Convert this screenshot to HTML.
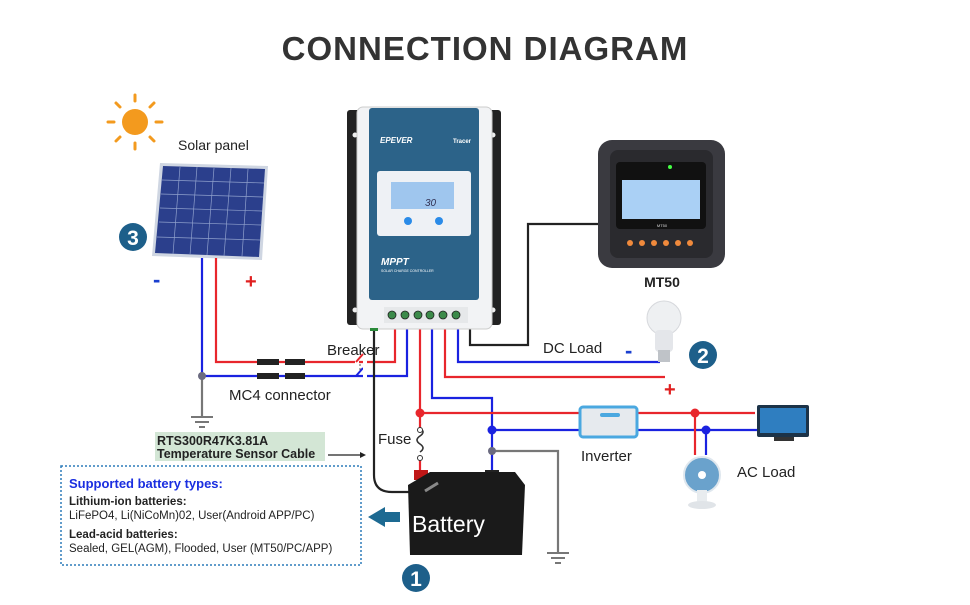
<!DOCTYPE html>
<html><head><meta charset="utf-8"><style>
html,body{margin:0;padding:0;background:#fff}
svg text{font-family:"Liberation Sans",Arial,sans-serif}
</style></head><body>
<svg width="970" height="600" viewBox="0 0 970 600" xmlns="http://www.w3.org/2000/svg">
<rect width="970" height="600" fill="#fff"/>
<text x="485" y="60" text-anchor="middle" font-size="33" font-weight="bold" fill="#333" letter-spacing="1">CONNECTION  DIAGRAM</text>

<!-- sun -->
<g stroke="#f39a1e" stroke-width="3" stroke-linecap="round">
<line x1="135" y1="95" x2="135" y2="101"/><line x1="135" y1="143" x2="135" y2="149"/>
<line x1="108" y1="122" x2="114" y2="122"/><line x1="156" y1="122" x2="162" y2="122"/>
<line x1="116" y1="103" x2="120" y2="107"/><line x1="150" y1="137" x2="154" y2="141"/>
<line x1="154" y1="103" x2="150" y2="107"/><line x1="120" y1="137" x2="116" y2="141"/>
</g>
<circle cx="135" cy="122" r="13" fill="#f39a1e"/>
<text x="178" y="150" font-size="14" fill="#222">Solar panel</text>

<!-- solar panel -->
<polygon points="160,163 268,166 262,260 152,256" fill="#cfd6e2"/>
<polygon points="163,166 265,169 259,257 155,253" fill="#2b3f8c"/>
<g stroke="#8fa0cc" stroke-width="0.7">
<line x1="180" y1="167" x2="173" y2="254"/><line x1="197" y1="167" x2="190" y2="255"/>
<line x1="214" y1="168" x2="207" y2="255"/><line x1="231" y1="168" x2="224" y2="256"/>
<line x1="248" y1="169" x2="242" y2="256"/>
<line x1="162" y1="180" x2="264" y2="183"/><line x1="161" y1="194" x2="263" y2="197"/>
<line x1="160" y1="208" x2="262" y2="211"/><line x1="159" y1="222" x2="261" y2="225"/>
<line x1="157" y1="237" x2="260" y2="240"/>
</g>
<circle cx="133" cy="237" r="14" fill="#1d5f8a"/>
<text x="133" y="245" text-anchor="middle" font-size="21" font-weight="bold" fill="#fff">3</text>
<text x="153" y="287" font-size="22" font-weight="bold" fill="#1a3fcf">-</text>
<text x="245" y="288" font-size="20" font-weight="bold" fill="#e02020">+</text>

<!-- wires -->
<g fill="none" stroke-width="2.2">
<polyline points="216,258 216,362 395,362 395,328" stroke="#e8262c"/>
<polyline points="202,258 202,376 407,376 407,328" stroke="#1a22e0"/>
<polyline points="420,328 420,470" stroke="#e8262c"/>
<polyline points="432,328 432,398 492,398 492,470" stroke="#1a22e0"/>
<polyline points="420,413 755,413" stroke="#e8262c"/>
<polyline points="492,430 760,430" stroke="#1a22e0"/>
<polyline points="445,328 445,377 665,377" stroke="#e8262c"/>
<polyline points="458,328 458,362 660,362" stroke="#1a22e0"/>
<polyline points="470,328 470,345 528,345 528,224 600,224" stroke="#222"/>
<polyline points="695,413 695,455" stroke="#e8262c"/>
<polyline points="706,430 706,455" stroke="#1a22e0"/>
<polyline points="202,376 202,416" stroke="#777"/>
<polyline points="492,451 558,451 558,552" stroke="#777"/>
<path d="M374,330 L374,475 Q374,492 392,492 L432,492" stroke="#222"/>
</g>
<g stroke="#777" stroke-width="2">
<line x1="191" y1="417" x2="213" y2="417"/><line x1="195" y1="422" x2="209" y2="422"/><line x1="199" y1="427" x2="205" y2="427"/>
<line x1="547" y1="553" x2="569" y2="553"/><line x1="551" y1="558" x2="565" y2="558"/><line x1="555" y1="563" x2="561" y2="563"/>
</g>
<circle cx="202" cy="376" r="4" fill="#6b6b80"/>
<circle cx="492" cy="451" r="4" fill="#6b6b80"/>
<circle cx="420" cy="413" r="4.5" fill="#e8262c"/>
<circle cx="492" cy="430" r="4.5" fill="#1a22e0"/>
<circle cx="695" cy="413" r="4.5" fill="#e8262c"/>
<circle cx="706" cy="430" r="4.5" fill="#1a22e0"/>

<!-- MC4 -->
<g fill="#222">
<rect x="257" y="359" width="22" height="6"/><rect x="285" y="359" width="20" height="6"/>
<rect x="257" y="373" width="22" height="6"/><rect x="285" y="373" width="20" height="6"/>
</g>
<rect x="305" y="359" width="54" height="6" fill="#fff"/>
<line x1="305" y1="362" x2="355" y2="362" stroke="#e8262c" stroke-width="2.2"/>
<line x1="356" y1="362" x2="363" y2="354" stroke="#e8262c" stroke-width="2"/>
<line x1="356" y1="376" x2="363" y2="368" stroke="#1a22e0" stroke-width="2"/>
<line x1="360" y1="364" x2="360" y2="372" stroke="#555" stroke-dasharray="2,2"/>
<rect x="363" y="358" width="4" height="22" fill="#fff"/>
<text x="327" y="355" font-size="15" fill="#222">Breaker</text>
<text x="229" y="400" font-size="15" fill="#222">MC4 connector</text>

<!-- fuse -->
<rect x="415" y="428" width="10" height="32" fill="#fff"/>
<path d="M420,428 q6,4 0,8 q-6,4 0,8 q6,4 0,8" fill="none" stroke="#333" stroke-width="1.6"/>
<circle cx="420" cy="430" r="2.5" fill="#fff" stroke="#333"/><circle cx="420" cy="458" r="2.5" fill="#fff" stroke="#333"/>
<text x="378" y="444" font-size="15" fill="#222">Fuse</text>

<!-- controller -->
<rect x="347" y="110" width="16" height="215" rx="3" fill="#222"/>
<rect x="485" y="110" width="16" height="215" rx="3" fill="#222"/>
<circle cx="355" cy="135" r="2.5" fill="#eee"/><circle cx="493" cy="135" r="2.5" fill="#eee"/>
<circle cx="355" cy="310" r="2.5" fill="#eee"/><circle cx="493" cy="310" r="2.5" fill="#eee"/>
<rect x="357" y="107" width="135" height="222" rx="6" fill="#f2f3f5" stroke="#ccc"/>
<rect x="369" y="108" width="110" height="192" rx="3" fill="#2c6389"/>
<text x="380" y="143" font-size="8" font-weight="bold" font-style="italic" fill="#fff">EPEVER</text>
<text x="453" y="143" font-size="6" font-weight="bold" fill="#fff">Tracer</text>
<rect x="377" y="171" width="94" height="65" rx="3" fill="#eef1f5"/>
<rect x="391" y="182" width="63" height="27" fill="#9fc6ee"/>
<text x="425" y="206" font-size="10" fill="#335" font-style="italic">30</text>
<circle cx="408" cy="221" r="4" fill="#2a8be8"/><circle cx="439" cy="221" r="4" fill="#2a8be8"/>
<text x="381" y="265" font-size="10" font-weight="bold" font-style="italic" fill="#fff">MPPT</text>
<text x="381" y="272" font-size="3.5" fill="#fff">SOLAR CHARGE CONTROLLER</text>
<rect x="384" y="307" width="84" height="16" fill="#e6e8ea"/>
<g fill="#3c8a4a" stroke="#222" stroke-width="0.8">
<circle cx="392" cy="315" r="4"/><circle cx="405" cy="315" r="4"/><circle cx="418" cy="315" r="4"/>
<circle cx="430" cy="315" r="4"/><circle cx="443" cy="315" r="4"/><circle cx="456" cy="315" r="4"/>
</g>
<rect x="370" y="328" width="8" height="3" fill="#2a8a3a"/>

<!-- MT50 -->
<rect x="598" y="140" width="127" height="128" rx="14" fill="#3a3a40"/>
<rect x="610" y="150" width="103" height="108" rx="8" fill="#2a2a2e"/>
<rect x="616" y="162" width="90" height="67" rx="4" fill="#111"/>
<circle cx="670" cy="167" r="2" fill="#4f4"/>
<rect x="622" y="180" width="78" height="39" fill="#aad0f5"/>
<text x="662" y="227" text-anchor="middle" font-size="4" fill="#ddd">MT50</text>
<g fill="#f08a3c"><circle cx="630" cy="243" r="3"/><circle cx="642" cy="243" r="3"/><circle cx="654" cy="243" r="3"/><circle cx="666" cy="243" r="3"/><circle cx="678" cy="243" r="3"/><circle cx="690" cy="243" r="3"/></g>
<text x="662" y="287" text-anchor="middle" font-size="14" font-weight="bold" fill="#222">MT50</text>

<!-- bulb -->
<circle cx="664" cy="318" r="17" fill="#eef0f2" stroke="#d6d8dc"/>
<rect x="655" y="330" width="18" height="22" rx="4" fill="#e4e6ea"/>
<rect x="658" y="350" width="12" height="12" fill="#bfc3c8"/>
<text x="543" y="353" font-size="15" fill="#222">DC Load</text>
<text x="625" y="358" font-size="22" font-weight="bold" fill="#1a3fcf">-</text>
<text x="664" y="396" font-size="20" font-weight="bold" fill="#e02020">+</text>
<circle cx="703" cy="355" r="14" fill="#1d5f8a"/>
<text x="703" y="363" text-anchor="middle" font-size="21" font-weight="bold" fill="#fff">2</text>

<!-- inverter -->
<rect x="580" y="407" width="57" height="30" rx="3" fill="#e6eaee" stroke="#4aa8e0" stroke-width="3"/>
<rect x="600" y="413" width="20" height="4" rx="2" fill="#4aa8e0"/>
<text x="581" y="461" font-size="15" fill="#222">Inverter</text>
<!-- monitor -->
<rect x="757" y="405" width="52" height="32" rx="2" fill="#1c3348"/>
<rect x="760" y="408" width="46" height="25" fill="#2f7ec0"/>
<rect x="774" y="437" width="20" height="4" fill="#333"/>
<text x="737" y="477" font-size="15" fill="#222">AC Load</text>
<!-- fan -->
<circle cx="702" cy="475" r="18" fill="#6aa2cc" stroke="#dfe7ee" stroke-width="2"/>
<circle cx="702" cy="475" r="4" fill="#fff"/>
<rect x="697" y="490" width="10" height="12" fill="#e8ecef"/>
<ellipse cx="702" cy="505" rx="14" ry="4" fill="#e0e4e8"/>

<!-- battery -->
<rect x="414" y="470" width="14" height="10" fill="#c01818"/>
<rect x="485" y="470" width="14" height="10" fill="#222"/>
<polygon points="408,485 430,472 515,472 525,485 522,555 410,555" fill="#1a1a1a"/>
<line x1="425" y1="491" x2="438" y2="483" stroke="#888" stroke-width="3"/>
<text x="412" y="532" font-size="23" fill="#fff">Battery</text>
<polygon points="400,512 385,512 385,507 368,517 385,527 385,522 400,522" fill="#1d6a92"/>
<circle cx="416" cy="578" r="14" fill="#1d5f8a"/>
<text x="416" y="586" text-anchor="middle" font-size="21" font-weight="bold" fill="#fff">1</text>

<!-- temp sensor label -->
<rect x="155" y="432" width="170" height="29" fill="#d3e6d5"/>
<text x="157" y="445" font-size="12.5" font-weight="bold" fill="#222">RTS300R47K3.81A</text>
<text x="157" y="458" font-size="12.5" font-weight="bold" fill="#222">Temperature Sensor Cable</text>
<line x1="328" y1="455" x2="362" y2="455" stroke="#222" stroke-width="1.3"/>
<polygon points="366,455 360,452 360,458" fill="#222"/>

<!-- battery types box -->
<rect x="61" y="466" width="300" height="99" fill="#fff" stroke="#2d7cba" stroke-width="1.5" stroke-dasharray="2,2"/>
<text x="69" y="488" font-size="13" font-weight="bold" fill="#1a2ee0">Supported battery types:</text>
<text x="69" y="505" font-size="11.5" font-weight="bold" fill="#222">Lithium-ion batteries:</text>
<text x="69" y="519" font-size="11.5" fill="#222">LiFePO4, Li(NiCoMn)02, User(Android APP/PC)</text>
<text x="69" y="538" font-size="11.5" font-weight="bold" fill="#222">Lead-acid batteries:</text>
<text x="69" y="552" font-size="11.5" fill="#222">Sealed, GEL(AGM), Flooded,  User (MT50/PC/APP)</text>
</svg>
</body></html>
